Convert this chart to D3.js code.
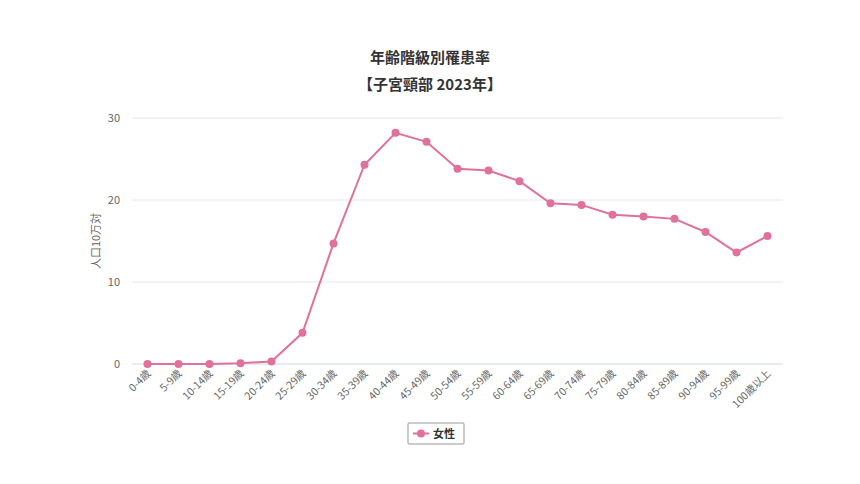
<!DOCTYPE html>
<html><head><meta charset="utf-8">
<script src="https://cdn.jsdelivr.net/npm/d3@7"></script>
<style>body{margin:0;background:#fff;font-family:"Noto Sans CJK JP","Noto Sans",sans-serif;}</style>
</head><body><div class="svg"></div>
<script>
var categories = ["0-4歳","5-9歳","10-14歳","15-19歳","20-24歳","25-29歳","30-34歳","35-39歳","40-44歳","45-49歳","50-54歳","55-59歳","60-64歳","65-69歳","70-74歳","75-79歳","80-84歳","85-89歳","90-94歳","95-99歳","100歳以上"];
var femaleRates = [0, 0, 0, 0.1, 0.3, 3.8, 14.7, 24.3, 28.2, 27.1, 23.8, 23.6, 22.3, 19.6, 19.4, 18.2, 18.0, 17.7, 16.1, 13.6, 15.6];
var yTicks = [0, 10, 20, 30];
var seriesName = "女性";
var color = "#e0719a";

var width = 860, height = 484;
var svg = d3.select(".svg").append("svg").attr("width", width).attr("height", height);

var x = d3.scaleBand().domain(categories).range([132, 783]);
var y = d3.scaleLinear().domain([0, 30]).range([364, 118]);

// titles
svg.append("text").attr("x", 430).attr("y", 63).attr("text-anchor", "middle")
  .attr("font-size", "15px").attr("font-weight", "bold").attr("fill", "#333").text("年齢階級別罹患率");
svg.append("text").attr("x", 430).attr("y", 90).attr("text-anchor", "middle")
  .attr("font-size", "15px").attr("font-weight", "bold").attr("fill", "#333").text("【子宮頸部 2023年】");

// gridlines
svg.selectAll(".grid").data(yTicks).enter().append("line")
  .attr("x1", 132).attr("x2", 783).attr("y1", d => y(d)).attr("y2", d => y(d))
  .attr("stroke", d => d === 0 ? "#ccd6eb" : "#e6e6e6").attr("stroke-width", 1);

// y tick labels
svg.selectAll(".ytick").data(yTicks).enter().append("text")
  .attr("x", 120).attr("y", d => y(d) + 4).attr("text-anchor", "end")
  .attr("font-size", "11px").attr("fill", "#666").text(d => d);

svg.append("text").attr("transform", "translate(100,241) rotate(-90)").attr("text-anchor", "middle")
  .attr("font-size", "11px").attr("fill", "#666").text("人口10万対");

// x labels
svg.selectAll(".xtick").data(categories).enter().append("text")
  .attr("transform", d => "translate(" + (x(d) + x.bandwidth() / 2 + 4) + ",374) rotate(-45)")
  .attr("text-anchor", "end").attr("font-size", "10.5px").attr("fill", "#666").text(d => d);

// line
var line = d3.line().x((d, i) => x(categories[i]) + x.bandwidth() / 2).y(d => y(d));
svg.append("path").datum(femaleRates).attr("d", line).attr("fill", "none")
  .attr("stroke", color).attr("stroke-width", 2);
svg.selectAll(".pt").data(femaleRates).enter().append("circle")
  .attr("cx", (d, i) => x(categories[i]) + x.bandwidth() / 2).attr("cy", d => y(d))
  .attr("r", 4).attr("fill", color);

// legend
var lg = svg.append("g");
lg.append("rect").attr("x", 408).attr("y", 423).attr("width", 56).attr("height", 21)
  .attr("fill", "#fff").attr("stroke", "#999").attr("rx", 1);
lg.append("line").attr("x1", 413).attr("x2", 429).attr("y1", 433.5).attr("y2", 433.5).attr("stroke", color).attr("stroke-width", 2);
lg.append("circle").attr("cx", 421).attr("cy", 433.5).attr("r", 4).attr("fill", color);
lg.append("text").attr("x", 433).attr("y", 438).attr("font-size", "11px").attr("font-weight", "bold")
  .attr("fill", "#333").text(seriesName);
</script></body></html>
